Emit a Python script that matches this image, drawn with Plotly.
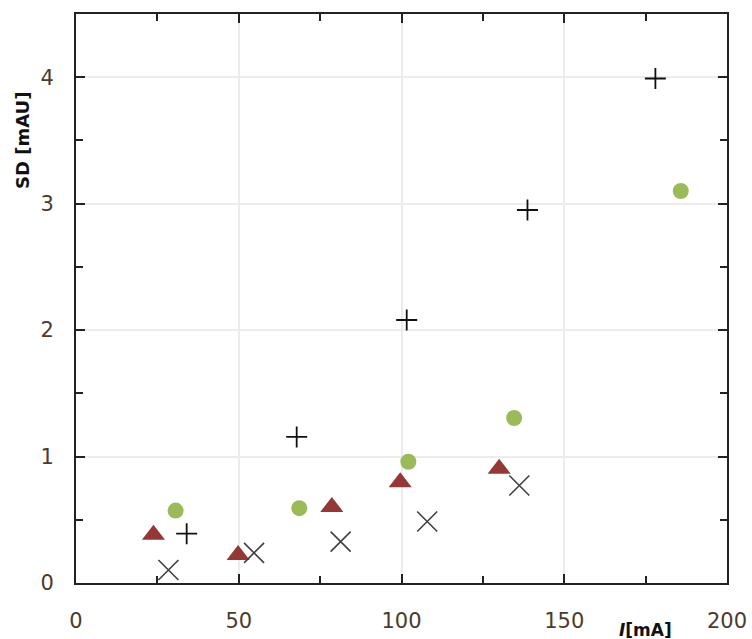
import plotly.graph_objects as go

# Data
plus_x = [34.0, 67.8, 101.6, 138.7, 178.0]
plus_y = [0.39, 1.155, 2.08, 2.95, 3.99]

circle_x = [30.6, 68.6, 102.1, 134.6, 185.8]
circle_y = [0.573, 0.592, 0.959, 1.305, 3.10]

tri_x = [23.8, 49.8, 78.6, 99.6, 130.0]
tri_y = [0.382, 0.222, 0.602, 0.796, 0.904]

xm_x = [28.4, 54.7, 81.3, 107.9, 136.2]
xm_y = [0.103, 0.238, 0.327, 0.486, 0.771]

x_ticks = [0, 50, 100, 150, 200]
y_ticks = [0, 1, 2, 3, 4]

fig = go.Figure()
fig.add_trace(go.Scatter(x=tri_x, y=tri_y, mode="markers",
                         marker=dict(symbol="triangle-up", size=20, color="#953735",
                                     line=dict(width=0))))
fig.add_trace(go.Scatter(x=circle_x, y=circle_y, mode="markers",
                         marker=dict(symbol="circle", size=16, color="#9bbb59",
                                     line=dict(width=0))))
fig.add_trace(go.Scatter(x=xm_x, y=xm_y, mode="markers",
                         marker=dict(symbol="x-thin", size=20, color="#404040",
                                     line=dict(width=1.6, color="#404040"))))
fig.add_trace(go.Scatter(x=plus_x, y=plus_y, mode="markers",
                         marker=dict(symbol="cross-thin", size=15, color="#111111",
                                     line=dict(width=1.8, color="#111111"))))

tick_font = dict(family="DejaVu Sans", size=21, color="#4a3c2c")
common = dict(showline=True, linecolor="#222222", linewidth=2, mirror="ticks",
              ticks="inside", ticklen=9, tickwidth=2, tickcolor="#222222",
              showgrid=True, gridcolor="#ececec", gridwidth=1.5,
              zeroline=False, tickfont=tick_font, automargin=False)

fig.update_xaxes(range=[0, 200], tickvals=x_ticks, ticktext=[str(v) for v in x_ticks],
                 ticklabelstandoff=18,
                 minor=dict(ticks="inside", ticklen=7, tickwidth=2, tickcolor="#222222",
                            dtick=25, tick0=0, showgrid=False),
                 **common)
fig.update_yaxes(range=[0, 4.5], tickvals=y_ticks, ticktext=[str(v) for v in y_ticks],
                 ticklabelstandoff=16,
                 minor=dict(ticks="inside", ticklen=7, tickwidth=2, tickcolor="#222222",
                            dtick=0.5, tick0=0, showgrid=False),
                 **common)

fig.add_annotation(text="<b>SD [mAU]</b>", xref="paper", yref="paper",
                   x=(22 - 76) / 651, y=(583 - 141) / 569, textangle=-90,
                   showarrow=False, xanchor="center", yanchor="middle",
                   font=dict(family="DejaVu Sans", size=18, color="#111111"))
fig.add_annotation(text="<b><i>I</i>[mA]</b>", xref="paper", yref="paper",
                   x=(645 - 76) / 651, y=(583 - 630) / 569,
                   showarrow=False, xanchor="center", yanchor="middle",
                   font=dict(family="DejaVu Sans", size=17, color="#111111"))

fig.update_layout(width=752, height=639, showlegend=False,
                  margin=dict(l=76, r=25, t=14, b=56),
                  paper_bgcolor="white", plot_bgcolor="white")

fig.write_html("out.html")
